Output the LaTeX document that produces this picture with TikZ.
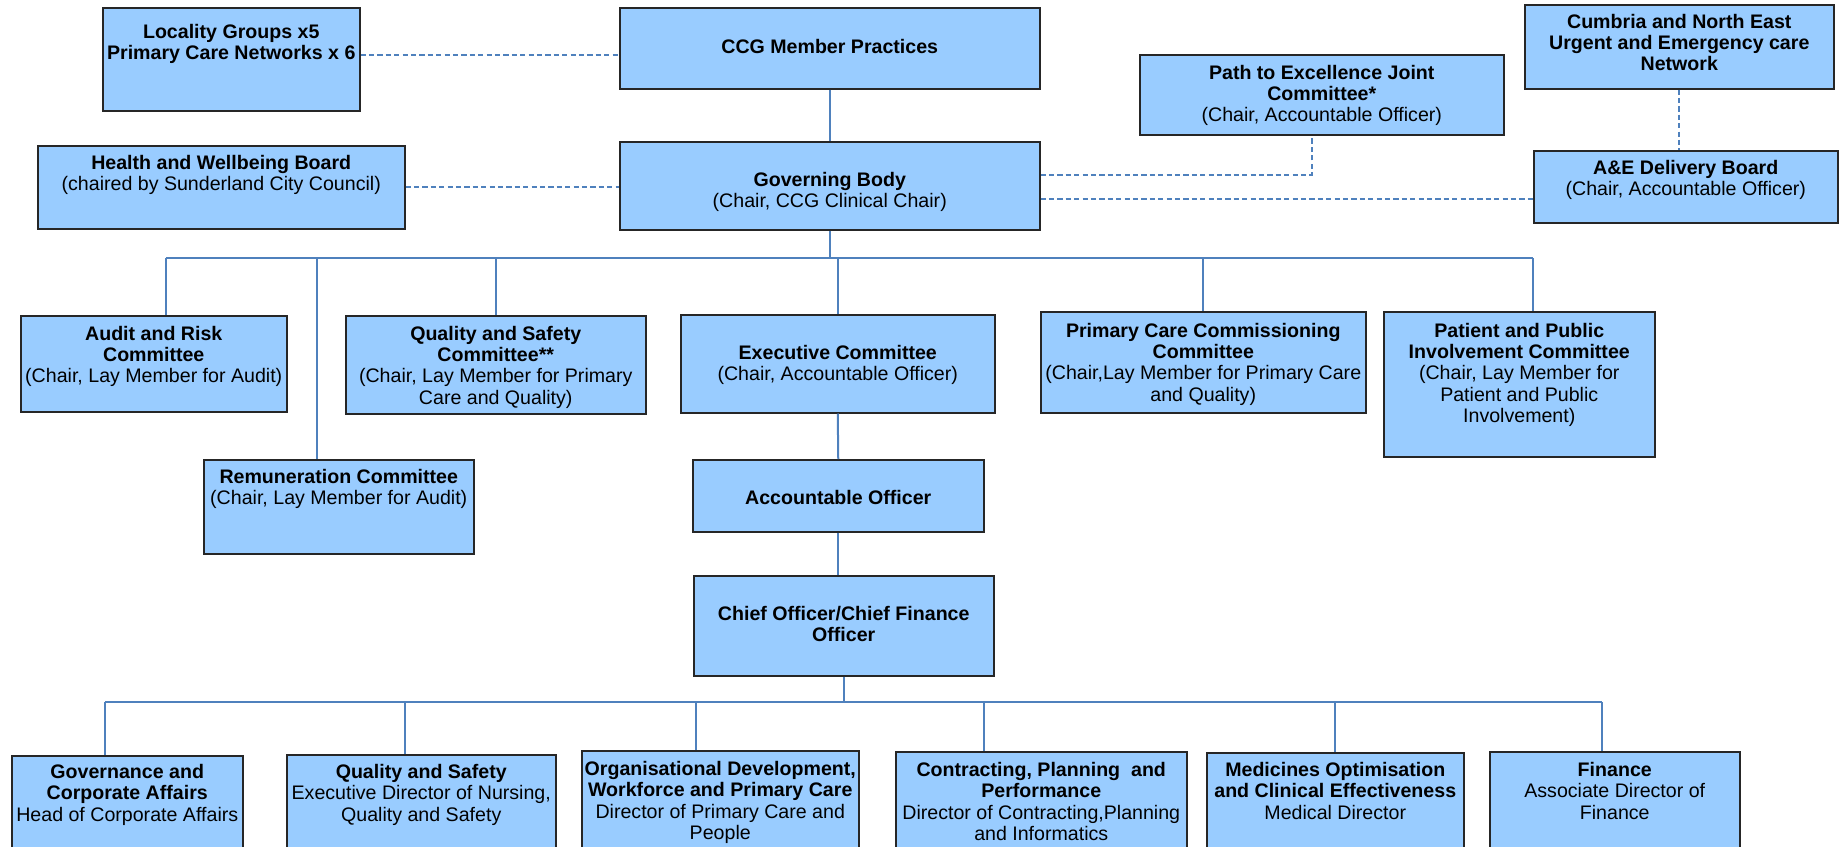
\documentclass[tikz,border=0pt]{standalone}
\usepackage{fontspec}
\setmainfont{Liberation Sans}
\usepackage{xcolor}
\definecolor{orgFill}{HTML}{99CCFF}
\definecolor{orgEdge}{HTML}{262626}
\definecolor{orgLink}{HTML}{4F81BD}
\usepackage{tikz}
\newdimen\pxu \pxu=0.5pt
\tikzset{org box/.style={draw=orgEdge, fill=orgFill, line width=0.75pt, inner sep=0pt, anchor=north west, font=\fontsize{9.8}{10.6}\selectfont}}
\tikzset{link/.style={draw=orgLink, line width=1pt}}
\tikzset{dashed link/.style={link, dash pattern=on 2.6pt off 1.6pt}}
\newcommand{\head}[1]{\textbf{#1}}
\newcommand{\boxtext}[4]{\parbox[c][#2\pxu][t]{#1\pxu}{\centering\vspace*{#3\pxu}\strut#4}}

\begin{document}
\begin{tikzpicture}[x=0.5pt, y=-0.5pt]
\useasboundingbox (0,0) rectangle (1839,846);
% top row
\node[org box](loc) at (102,7) {\boxtext{257}{103}{16}{\head{Locality Groups x5\\Primary Care Networks x 6}}};
\node[org box](ccg) at (619,7) {\boxtext{420}{81}{31}{\head{CCG Member Practices}}};
\node[org box](path) at (1139,54) {\boxtext{364}{80}{10}{\head{Path to Excellence Joint\\Committee*}\\(Chair, Accountable Officer)}};
\node[org box](cumb) at (1524,4) {\boxtext{309}{84}{9}{\head{Cumbria and North East\\Urgent and Emergency care\\Network}}};
\node[org box](hwb) at (37,145) {\boxtext{367}{83}{9}{\head{Health and Wellbeing Board}\\(chaired by Sunderland City Council)}};
\node[org box](gb) at (619,141) {\boxtext{420}{88}{30}{\head{Governing Body}\\(Chair, CCG Clinical Chair)}};
\node[org box](ae) at (1533,150) {\boxtext{304}{72}{9}{\head{A\&E Delivery Board}\\(Chair, Accountable Officer)}};
% committees
\node[org box](audit) at (20,315) {\boxtext{266}{96}{10}{\head{Audit and Risk\\Committee}\\(Chair, Lay Member for Audit)}};
\node[org box](qsc) at (345,315) {\boxtext{300}{98}{10}{\head{Quality and Safety\\Committee**}\\(Chair, Lay Member for Primary\\Care and Quality)}};
\node[org box](exec) at (680,314) {\boxtext{314}{98}{30}{\head{Executive Committee}\\(Chair, Accountable Officer)}};
\node[org box](pcc) at (1040,311) {\boxtext{325}{101}{11}{\head{Primary Care Commissioning\\Committee}\\(Chair,Lay Member for Primary Care\\and Quality)}};
\node[org box](ppi) at (1383,311) {\boxtext{271}{145}{11}{\head{Patient and Public\\Involvement Committee}\\(Chair, Lay Member for\\Patient and Public\\Involvement)}};
\node[org box](rem) at (203,459) {\boxtext{270}{94}{9}{\head{Remuneration Committee}\\(Chair, Lay Member for Audit)}};
\node[org box](ao) at (692,459) {\boxtext{291}{72}{30}{\head{Accountable Officer}}};
\node[org box](chief) at (693,575) {\boxtext{300}{100}{30}{\head{Chief Officer/Chief Finance\\Officer}}};
% directorates
\node[org box](gov) at (11,755) {\boxtext{231}{95}{8}{\head{Governance and\\Corporate Affairs}\\Head of Corporate Affairs}};
\node[org box](qs) at (286,754) {\boxtext{269}{96}{9}{\head{Quality and Safety}\\Executive Director of Nursing,\\Quality and Safety}};
\node[org box](od) at (581,750) {\boxtext{277}{100}{10}{\head{Organisational Development,\\Workforce and Primary Care}\\Director of Primary Care and\\People}};
\node[org box](cpp) at (895,751) {\boxtext{291}{99}{10}{\head{Contracting, Planning~ and\\Performance}\\Director of Contracting,Planning\\and Informatics}};
\node[org box](mo) at (1206,752) {\boxtext{257}{98}{9}{\head{Medicines Optimisation\\and Clinical Effectiveness}\\Medical Director}};
\node[org box](fin) at (1489,751) {\boxtext{250}{99}{10}{\head{Finance}\\Associate Director of\\Finance}};
\coordinate (bus1) at (836,258);
\coordinate (bus2) at (842,702);
% dashed links
\draw[dashed link] ([yshift=2.25pt]loc.east) -- ([yshift=2.25pt]loc.east -| ccg.west);
\draw[dashed link] (hwb.east) -- (hwb.east -| gb.west);
\draw[dashed link] ([yshift=5.5pt]gb.east) -| ([xshift=-5pt]path.south);
\draw[dashed link] ([yshift=-6.5pt]gb.east) -- ([yshift=-6.5pt]gb.east -| ae.west);
\draw[dashed link] (cumb.south) -- (cumb.south |- ae.north);
% solid links
\draw[link] (ccg.south) -- (gb.north);
\draw[link] (gb.south) -- (gb.south |- bus1);
\draw[link] ([xshift=6pt]audit.north |- bus1) -- ([xshift=7pt]ppi.north |- bus1);
\foreach \b/\s in {audit/6pt, rem/-11pt, qsc/0pt, exec/0pt, pcc/0pt, ppi/7pt}
  \draw[link] ([xshift=\s]\b.north |- bus1) -- ([xshift=\s]\b.north);
\draw[link] (exec.south) -- (ao.north);
\draw[link] (ao.south) -- (ao.south |- chief.north);
\draw[link] (chief.south) -- (chief.south |- bus2);
\draw[link] ([xshift=-11.25pt]gov.north |- bus2) -- ([xshift=-6.5pt]fin.north |- bus2);
\foreach \b/\s in {gov/-11.25pt, qs/-8.25pt, od/-12.25pt, cpp/-28.75pt, mo/0pt, fin/-6.5pt}
  \draw[link] ([xshift=\s]\b.north |- bus2) -- ([xshift=\s]\b.north);
\end{tikzpicture}
\end{document}
